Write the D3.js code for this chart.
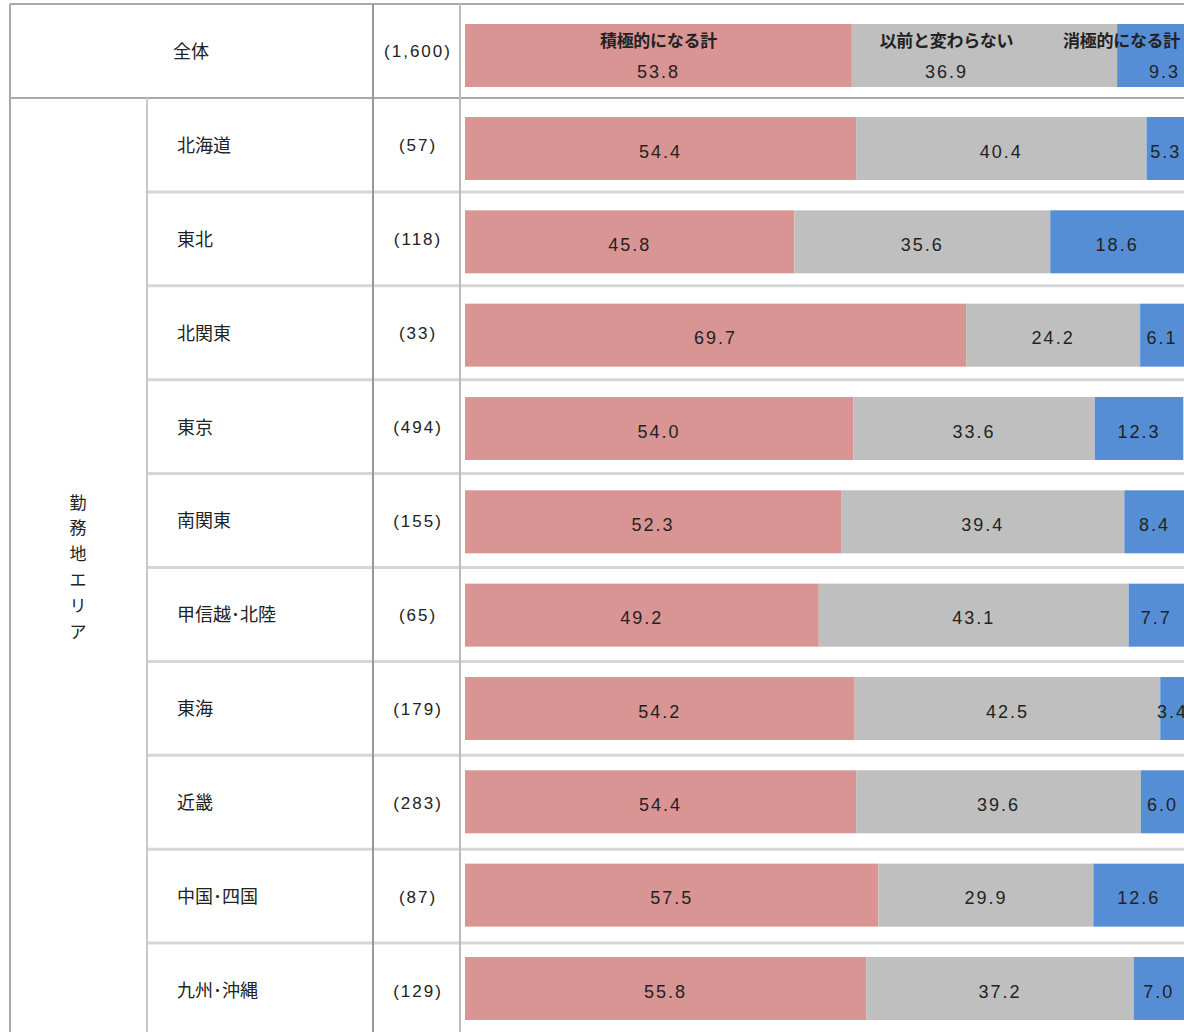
<!DOCTYPE html>
<html lang="ja">
<head>
<meta charset="UTF-8" />
<title>勤務地エリア別</title>
<script src="https://d3js.org/d3.v7.min.js"></script>
<style>
  body { margin: 0; background: #fff; }
  text { font-family: "Noto Sans CJK JP", "Noto Sans", sans-serif; fill: #222; }
  .num { font-family: "Liberation Sans", Arial, sans-serif; letter-spacing: 2px; }
</style>
</head>
<body>
<svg width="1184" height="1032"></svg>
<script>
const width = 1184;
const height = 1032;

// data
const seriesNames = ["積極的になる計", "以前と変わらない", "消極的になる計"];
const seriesColors = ["#d99594", "#bfbfbf", "#558ed5"];
const totalLabel = "全体";
const totalCount = "(1,600)";
const totalValues = [53.8, 36.9, 9.3];
const groupLabel = "勤務地エリア";
const regions = ["北海道", "東北", "北関東", "東京", "南関東", "甲信越･北陸", "東海", "近畿", "中国･四国", "九州･沖縄"];
const counts = ["(57)", "(118)", "(33)", "(494)", "(155)", "(65)", "(179)", "(283)", "(87)", "(129)"];
const positive = [54.4, 45.8, 69.7, 54.0, 52.3, 49.2, 54.2, 54.4, 57.5, 55.8];
const neutral = [40.4, 35.6, 24.2, 33.6, 39.4, 43.1, 42.5, 39.6, 29.9, 37.2];
const negative = [5.3, 18.6, 6.1, 12.3, 8.4, 7.7, 3.4, 6.0, 12.6, 7.0];

const rows = [{ label: totalLabel, count: totalCount, values: totalValues, total: true }]
  .concat(regions.map((r, i) => ({ label: r, count: counts[i], values: [positive[i], neutral[i], negative[i]], total: false })));

const svg = d3.select("svg");

// layout
const topY = 4;
const headH = 94;
const regionTop = topY + headH;
const yr = d3.scaleBand().domain(d3.range(regions.length)).range([regionTop, regionTop + 93.9 * regions.length]);
// bars sit on a slightly tighter pitch than the table rows
const yb = d3.scaleBand().domain(d3.range(regions.length)).range([117, 117 + 93.33 * regions.length]);
const rowY = i => i === 0 ? topY : yr(i - 1);
const rowHeight = i => i === 0 ? headH : yr.bandwidth();
const barY = i => i === 0 ? topY + 20 : yb(i - 1);
const x = d3.scaleLinear().domain([0, 100]).range([465, 1184]);
const barH = 63;

const defs = svg.append("defs");
defs.append("clipPath").attr("id", "clip").append("rect")
  .attr("x", 461).attr("y", 0).attr("width", width - 461).attr("height", height);

// bars
const barG = svg.append("g").attr("clip-path", "url(#clip)");
rows.forEach((row, i) => {
  let acc = 0;
  const segs = row.values.map((v, k) => {
    const s = { x0: acc, x1: acc + v, v, k };
    acc += v;
    return s;
  });
  const by = barY(i);
  const g = barG.append("g");
  g.selectAll("rect").data(segs).join("rect")
    .attr("x", d => x(d.x0))
    .attr("width", d => x(d.x1) - x(d.x0))
    .attr("y", by)
    .attr("height", barH)
    .attr("fill", d => seriesColors[d.k]);

  // header row places its labels a little off the segment centres
  const lx = d => {
    const c = (x(d.x0) + x(d.x1)) / 2;
    if (!row.total) return c;
    if (d.k === 1) return c - 38;
    if (d.k === 2) return 1180;
    return c;
  };
  const anchor = d => row.total && d.k === 2 ? "end" : "middle";

  g.selectAll("text.num").data(segs).join("text")
    .attr("class", "num")
    .attr("x", lx)
    .attr("y", by + (row.total ? 49 : 36))
    .attr("text-anchor", anchor)
    .attr("dominant-baseline", "middle")
    .style("font-size", "18px")
    .text(d => d.v.toFixed(1));
  if (row.total) {
    g.selectAll("text.hdr").data(segs).join("text")
      .attr("class", "hdr")
      .attr("x", lx)
      .attr("y", by + 18)
      .attr("text-anchor", anchor)
      .attr("dominant-baseline", "middle")
      .style("font-size", "17px")
      .style("font-weight", "bold")
      .style("letter-spacing", "-0.3px")
      .text(d => seriesNames[d.k]);
  }
});

// grid lines
const grid = svg.append("g");
d3.range(1, regions.length).forEach(i => {
  grid.append("line")
    .attr("x1", 147).attr("x2", width)
    .attr("y1", yr(i)).attr("y2", yr(i))
    .attr("stroke", "#d6d6d6").attr("stroke-width", 3);
});
grid.append("line").attr("x1", 10).attr("x2", width).attr("y1", topY).attr("y2", topY)
  .attr("stroke", "#aaa").attr("stroke-width", 2);
grid.append("line").attr("x1", 10).attr("x2", width).attr("y1", regionTop).attr("y2", regionTop)
  .attr("stroke", "#aaa").attr("stroke-width", 2);
[[10, topY, "#aaa"], [147, regionTop, "#c8c8c8"], [373, topY, "#999"], [460, topY, "#bbb"]].forEach(([lx, ly, c]) => {
  grid.append("line").attr("x1", lx).attr("x2", lx).attr("y1", ly).attr("y2", height)
    .attr("stroke", c).attr("stroke-width", 2);
});

// row labels
const lab = svg.append("g");
rows.forEach((row, i) => {
  const cy = rowY(i) + rowHeight(i) / 2 + 2;
  lab.append("text")
    .attr("x", row.total ? 191 : 177)
    .attr("y", cy)
    .attr("text-anchor", row.total ? "middle" : "start")
    .attr("dominant-baseline", "middle")
    .style("font-size", "18px")
    .text(row.label);
  lab.append("text")
    .attr("class", "num")
    .attr("x", 418)
    .attr("y", cy)
    .attr("text-anchor", "middle")
    .attr("dominant-baseline", "middle")
    .style("font-size", "17px")
    .text(row.count);
});

// vertical group label
const chars = Array.from(groupLabel);
lab.selectAll("text.grp").data(chars).join("text")
  .attr("class", "grp")
  .attr("x", 78)
  .attr("y", (d, k) => 504 + k * 25.8)
  .attr("text-anchor", "middle")
  .attr("dominant-baseline", "middle")
  .style("font-size", "17px")
  .text(d => d);
</script>
</body>
</html>
